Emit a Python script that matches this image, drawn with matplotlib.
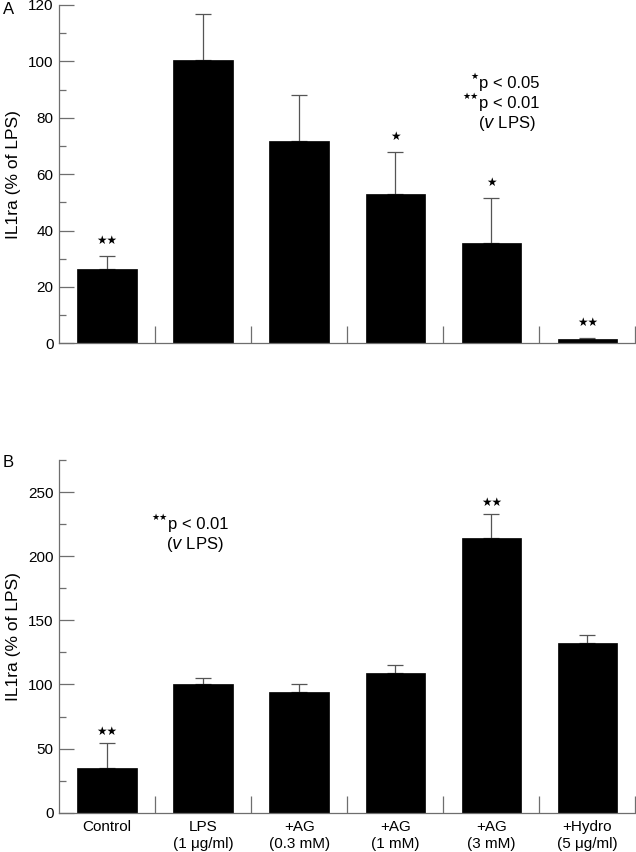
import matplotlib
matplotlib.use("Agg")
import matplotlib.pyplot as plt
from matplotlib.ticker import MultipleLocator, FixedLocator

plt.rcParams['font.family'] = ['Liberation Sans', 'DejaVu Sans']

categories = ["Control", "LPS\n(1 μg/ml)", "+AG\n(0.3 mM)", "+AG\n(1 mM)", "+AG\n(3 mM)", "+Hydro\n(5 μg/ml)"]

a_values = [26.3, 100.4, 71.6, 52.9, 35.6, 1.5]
a_errors = [4.8, 16.4, 16.3, 15.1, 16.1, 0.5]
a_stars = ["★★", "", "", "★", "★", "★★"]

b_values = [35.1, 100.2, 94.4, 109.3, 214.1, 132.4]
b_errors = [19.5, 4.9, 6.3, 5.7, 18.7, 6.3]
b_stars = ["★★", "", "", "", "★★", ""]

W, H = 636, 852
fig = plt.figure(figsize=(W / 100, H / 100), dpi=100)

def make_axes(top_px, bottom_px):
    left = 59 / W
    right = 635.5 / W
    return fig.add_axes([left, 1 - bottom_px / H, right - left, (bottom_px - top_px) / H])

axA = make_axes(5, 343.3)
axB = make_axes(460, 812.7)

spine_col = "#6e6e6e"
err_col = "#555555"

def style(ax, ymax, major, minor, values, errors, stars, star_gap):
    x = list(range(len(values)))
    ax.bar(x, values, width=0.62, color="black", edgecolor="black", linewidth=0.5, zorder=2)
    ax.errorbar(x, values, yerr=[[0] * len(errors), errors], fmt="none",
                ecolor=err_col, elinewidth=0.9, capsize=5.5, capthick=0.9, zorder=1)
    for xi, v, e, s in zip(x, values, errors, stars):
        if s:
            ax.text(xi, v + e + star_gap, s, ha="center", va="bottom",
                    fontsize=8.5, family="DejaVu Sans")
    ax.set_xlim(-0.5, 5.5)
    ax.set_ylim(0, ymax)
    for sp in ["top", "right"]:
        ax.spines[sp].set_visible(False)
    for sp in ["left", "bottom"]:
        ax.spines[sp].set_color(spine_col)
        ax.spines[sp].set_linewidth(0.9)
    ax.yaxis.set_major_locator(MultipleLocator(major))
    ax.yaxis.set_minor_locator(MultipleLocator(minor))
    ax.tick_params(axis="y", which="major", direction="in", length=11, width=0.9,
                   color=spine_col, labelsize=11, pad=4)
    ax.tick_params(axis="y", which="minor", direction="in", length=5, width=0.9,
                   color=spine_col)
    ax.xaxis.set_minor_locator(FixedLocator([0.5, 1.5, 2.5, 3.5, 4.5, 5.5]))
    ax.tick_params(axis="x", which="minor", direction="in", length=12, width=0.9,
                   color=spine_col)
    ax.set_ylabel("IL1ra (% of LPS)", fontsize=12.5)
    ax.yaxis.set_label_coords(-0.066, 0.5)

style(axA, 120, 20, 10, a_values, a_errors, a_stars, 3)
axA.set_xticks(range(6))
axA.set_xticklabels([])
axA.tick_params(axis="x", which="major", length=0)

style(axB, 275, 50, 25, b_values, b_errors, b_stars, 4)
axB.set_xticks(range(6))
axB.set_xticklabels(categories, fontsize=11, linespacing=1.35)
axB.tick_params(axis="x", which="major", length=0, pad=5)
axB.set_yticks([0, 50, 100, 150, 200, 250])
axB.yaxis.set_minor_locator(FixedLocator([25, 75, 125, 175, 225, 275]))

# significance legends
def sig_line(ax, x, y, stars, text):
    ax.text(x, y, text, ha="left", va="center", fontsize=12)
    ax.annotate(stars, xy=(x, y), xytext=(0, 5), textcoords="offset points",
                ha="right", va="center", fontsize=6.5, family="DejaVu Sans")

sig_line(axA, 3.87, 92.3, "★", "p < 0.05")
sig_line(axA, 3.87, 85.0, "★★", "p < 0.01")
axA.text(4.16, 77.9, r"($\it{v}$ LPS)", ha="center", va="center", fontsize=12)

sig_line(axB, 0.63, 225.0, "★★", "p < 0.01")
axB.text(0.92, 209.4, r"($\it{v}$ LPS)", ha="center", va="center", fontsize=12)

fig.text(3 / W, 1 - 9 / H, "A", ha="left", va="center", fontsize=12)
fig.text(3 / W, 1 - 462 / H, "B", ha="left", va="center", fontsize=12)

fig.savefig("out.png", dpi=100)
